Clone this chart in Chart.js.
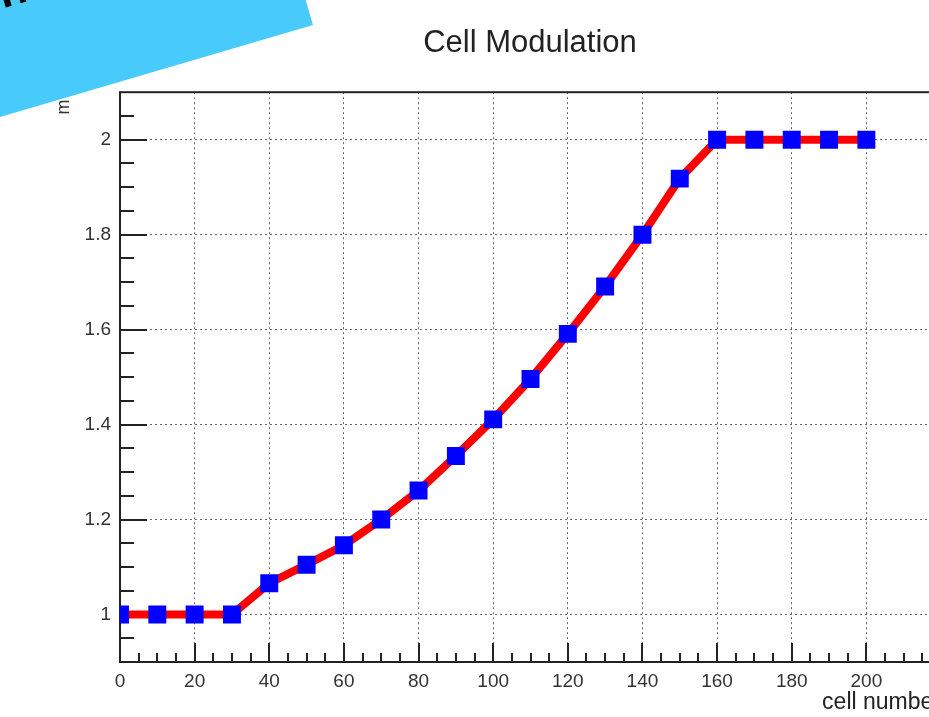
<!DOCTYPE html>
<html>
<head>
<meta charset="utf-8">
<title>Cell Modulation</title>
<script src="https://cdn.jsdelivr.net/npm/chart.js@4.4.1/dist/chart.umd.min.js"></script>
<style>
  html, body { margin: 0; padding: 0; background: #fff; overflow: hidden; }
  #wrap { position: relative; width: 1060px; height: 717px; }
  #banner {
    position: absolute; left: -187px; top: -275px; width: 500px; height: 300px;
    background: #48cbfb; transform-origin: 100% 100%; transform: rotate(-16.4deg);
  }
  #bannerText {
    position: absolute; left: -8px; top: -28px; margin: 0;
    font: bold 45px/45px "Liberation Sans", Arial, sans-serif; color: #000;
    transform-origin: 0 0; transform: rotate(-16.4deg); white-space: nowrap;
  }
</style>
</head>
<body>
<div id="wrap">
  <canvas id="chart" width="1060" height="717"></canvas>
  <div id="banner"></div>
  <span id="bannerText">n</span>
</div>
<script>
  // values
  const cellNumbers = [0, 10, 20, 30, 40, 50, 60, 70, 80, 90, 100,
    110, 120, 130, 140, 150, 160, 170, 180, 190, 200];
  const modulation = [1, 1, 1, 1, 1.066, 1.105, 1.146, 1.2, 1.261, 1.334, 1.411,
    1.496, 1.591, 1.691, 1.8, 1.918, 2, 2, 2, 2, 2];
  const xTickValues = [0, 20, 40, 60, 80, 100, 120, 140, 160, 180, 200];
  const yTickValues = [1, 1.2, 1.4, 1.6, 1.8, 2];
  const yTickLabels = ["1", "1.2", "1.4", "1.6", "1.8", "2"];

  const FONT = "Liberation Sans";

  // ROOT-style frame with ticks pointing inwards
  const frameTicks = {
    id: "frameTicks",
    beforeDatasetsDraw(chart) {
      const { ctx, chartArea: a, scales: { x, y } } = chart;
      ctx.save();
      ctx.strokeStyle = "#222";
      ctx.lineWidth = 2;
      ctx.strokeRect(a.left, a.top, a.right - a.left, a.bottom - a.top);
      ctx.beginPath();
      for (let v = 5; v < 220; v += 5) {
        const px = Math.round(x.getPixelForValue(v));
        const len = v % 20 === 0 ? 19 : 9;
        ctx.moveTo(px, a.bottom);
        ctx.lineTo(px, a.bottom - len);
      }
      for (let k = 19; k <= 41; k++) {
        const py = Math.round(y.getPixelForValue(k * 0.05));
        const len = k % 4 === 0 ? 27 : 14;
        ctx.moveTo(a.left, py);
        ctx.lineTo(a.left + len, py);
      }
      ctx.stroke();
      ctx.restore();
    },
    afterDraw(chart) {
      const { ctx } = chart;
      ctx.save();
      ctx.fillStyle = "#333";
      ctx.font = "18px " + FONT;
      ctx.translate(64, 107);
      ctx.rotate(-Math.PI / 2);
      ctx.textAlign = "center";
      ctx.textBaseline = "middle";
      ctx.fillText("m", 0, 0);
      ctx.restore();
    },
  };

  new Chart(document.getElementById("chart"), {
    type: "line",
    data: {
      datasets: [{
        data: cellNumbers.map(function (n, i) { return { x: n, y: modulation[i] }; }),
        borderColor: "#ff0000",
        borderWidth: 8,
        tension: 0,
        pointStyle: "rect",
        pointRadius: 12.7,
        pointBackgroundColor: "#0000ff",
        pointBorderWidth: 0,
      }],
    },
    options: {
      responsive: false,
      animation: false,
      events: [],
      layout: { padding: 0 },
      plugins: {
        legend: { display: false },
        tooltip: { enabled: false },
        title: {
          display: true,
          text: "Cell Modulation",
          color: "#222",
          font: { family: FONT, size: 31, weight: "normal" },
          padding: { top: 25, bottom: 30 },
        },
      },
      scales: {
        x: {
          type: "linear",
          min: 0,
          max: 220,
          afterBuildTicks: function (scale) {
            scale.ticks = xTickValues.map(function (v) { return { value: v }; });
          },
          afterFit: function (scale) { scale.height = 55; },
          ticks: {
            color: "#333",
            font: { family: FONT, size: 19 },
            padding: 8,
            maxRotation: 0,
            callback: function (value) { return String(value); },
          },
          grid: { color: "#666", lineWidth: 1, drawTicks: false },
          border: { display: false, dash: [2, 3] },
          title: {
            display: true,
            text: "cell number",
            align: "end",
            color: "#222",
            font: { family: FONT, size: 23 },
            padding: { top: 0, bottom: 1 },
          },
        },
        y: {
          min: 0.9,
          max: 2.1,
          afterBuildTicks: function (scale) {
            scale.ticks = yTickValues.map(function (v) { return { value: v }; });
          },
          afterFit: function (scale) { scale.width = 120; },
          ticks: {
            color: "#333",
            font: { family: FONT, size: 19 },
            padding: 9,
            callback: function (value) {
              const i = yTickValues.indexOf(value);
              return i >= 0 ? yTickLabels[i] : "";
            },
          },
          grid: { color: "#666", lineWidth: 1, drawTicks: false },
          border: { display: false, dash: [2, 3] },
        },
        // empty right-hand margin so the title stays centred on the whole pad
        margin: {
          position: "right",
          min: 0.9,
          max: 2.1,
          afterFit: function (scale) { scale.width = 119; },
          ticks: { display: false },
          grid: { display: false, drawTicks: false },
          border: { display: false },
        },
      },
    },
    plugins: [frameTicks],
  });
</script>
</body>
</html>
